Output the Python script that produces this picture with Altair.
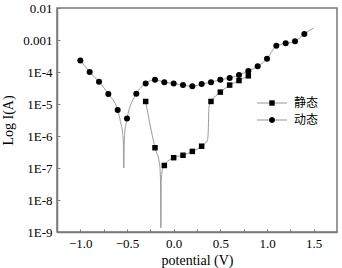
import altair as alt
import pandas as pd

# ---- data ----
series_names = ["静态", "动态"]

# dynamic (动态): marker points
dyn_v = [-1.0, -0.9, -0.8, -0.7, -0.6, -0.5, -0.4, -0.3, -0.2, -0.1, 0.0, 0.1, 0.2,
         0.3, 0.4, 0.5, 0.6, 0.7, 0.8, 0.9, 1.0, 1.1, 1.2, 1.3, 1.4]
dyn_i = [2.29e-4, 1.0e-4, 5.0e-5, 2.04e-5, 6.5e-6, 3.55e-6, 2.1e-5, 4.4e-5, 5.75e-5,
         4.8e-5, 4.4e-5, 3.9e-5, 3.6e-5, 4.2e-5, 4.8e-5, 5.75e-5, 6.5e-5, 8.1e-5,
         1.07e-4, 1.5e-4, 2.6e-4, 6.6e-4, 7.9e-4, 9.1e-4, 1.55e-3]
# dynamic: extra curve points (no marker)
dyn_curve_v = [-0.57, -0.545, -0.537, -0.534, -0.531, -0.525, -0.51, 1.5]
dyn_curve_i = [2.8e-6, 1.1e-6, 3.2e-7, 1.0e-7, 4.0e-7, 1.1e-6, 2.5e-6, 2.4e-3]

# static (静态): marker points
sta_v = [-0.3, -0.2, -0.1, 0.0, 0.1, 0.2, 0.3, 0.4, 0.5, 0.6, 0.7, 0.8]
sta_i = [1.2e-5, 4.3e-7, 1.2e-7, 2.1e-7, 2.5e-7, 3.3e-7, 4.8e-7, 1.2e-5, 2.35e-5,
         3.9e-5, 5.4e-5, 7.6e-5]
# static: extra curve points (no marker)
sta_curve_v = [-0.15, -0.141, -0.137, -0.133, -0.12, 0.36, 0.37, 0.378, 0.39]
sta_curve_i = [1.25e-7, 4.0e-8, 1.35e-9, 4.0e-8, 8.9e-8, 7.1e-7, 1.26e-6, 7.9e-6, 1.07e-5]

x_ticks = [-1.0, -0.5, 0.0, 0.5, 1.0, 1.5]
x_minor = [-1.0, -0.75, -0.5, -0.25, 0.0, 0.25, 0.5, 0.75, 1.0, 1.25, 1.5]
y_ticks = [1e-2, 1e-3, 1e-4, 1e-5, 1e-6, 1e-7, 1e-8, 1e-9]
y_labels = ["0.01", "0.001", "1E-4", "1E-5", "1E-6", "1E-7", "1E-8", "1E-9"]

# ---- tables ----
dyn_line = pd.DataFrame({"V": dyn_v + dyn_curve_v, "I": dyn_i + dyn_curve_i}).sort_values("V")
sta_line = pd.DataFrame({"V": sta_v + sta_curve_v, "I": sta_i + sta_curve_i}).sort_values("V")
dyn_pts = pd.DataFrame({"V": dyn_v, "I": dyn_i})
sta_pts = pd.DataFrame({"V": sta_v, "I": sta_i})
leg_df = pd.DataFrame({"series": series_names, "V": [0.0, 0.0], "I": [1e-5, 1e-5]})

FONT = "Liberation Serif, Noto Sans CJK SC"
GRAY = "#7a7a7a"
LINE_GRAY = "#9a9a9a"

xscale = alt.Scale(domain=[-1.25, 1.75], nice=False, zero=False)
yscale = alt.Scale(type="log", domain=[1e-9, 1e-2], nice=False)

label_expr = " : ".join(
    f"abs(log(datum.value)/LN10 - ({i}))<0.01 ? '{lab}'"
    for i, lab in zip([-2, -3, -4, -5, -6, -7, -8, -9], y_labels)
) + " : ''"

x_main = alt.X("V:Q", scale=xscale, title="potential (V)",
               axis=alt.Axis(values=x_ticks, format=".1f", ticks=False, labelPadding=5,
                             grid=False, domainColor=GRAY, domainWidth=1.5,
                             labelFont=FONT, labelFontSize=13, labelColor="black",
                             titleFont=FONT, titleFontSize=14, titleFontWeight="normal",
                             titleColor="black", titlePadding=3, orient="bottom"))
y_main = alt.Y("I:Q", scale=yscale, title="Log I(A)",
               axis=alt.Axis(values=y_ticks, labelExpr=label_expr, ticks=False, labelPadding=5,
                             grid=False, domainColor=GRAY, domainWidth=1.5,
                             labelFont=FONT, labelFontSize=13, labelColor="black",
                             titleFont=FONT, titleFontSize=14, titleFontWeight="normal",
                             titleColor="black", titlePadding=7, orient="left"))

x_tick = alt.X("V:Q", scale=xscale, title=None,
               axis=alt.Axis(values=x_minor, labels=False, domain=False, grid=False,
                             ticks=True, tickSize=3, tickColor=GRAY, tickWidth=1,
                             offset=-3, orient="bottom"))
y_tick = alt.Y("I:Q", scale=yscale, title=None,
               axis=alt.Axis(values=y_ticks, labels=False, domain=False, grid=False,
                             ticks=True, tickSize=3, tickColor=GRAY, tickWidth=1,
                             offset=-3, orient="left"))

x_none = alt.X("V:Q", scale=xscale, axis=None)
y_none = alt.Y("I:Q", scale=yscale, axis=None)

line_dyn = alt.Chart(dyn_line).mark_line(color=LINE_GRAY, strokeWidth=1, interpolate="monotone", clip=True).encode(
    x=x_main, y=y_main, order="V:Q")
line_sta = alt.Chart(sta_line).mark_line(color=LINE_GRAY, strokeWidth=1, interpolate="monotone", clip=True).encode(
    x=x_none, y=y_none, order="V:Q")
pts_dyn = alt.Chart(dyn_pts).mark_point(shape="circle", filled=True, color="black", opacity=1, size=36).encode(
    x=x_tick, y=y_tick)
pts_sta = alt.Chart(sta_pts).mark_point(shape="square", filled=True, color="black", opacity=1, size=30).encode(
    x=x_none, y=y_none)

# legend symbols: a gray line (first legend) overlaid by a black marker (second legend)
line_path = "M-1,-0.034H1V0.034H-1Z"
sq_path = "M-0.18,-0.18H0.18V0.18H-0.18Z"
ci_path = "M0.2,0A0.2,0.2,0,1,1,-0.2,0A0.2,0.2,0,1,1,0.2,0Z"

common_leg = dict(title=None, orient="none", legendX=200, legendY=90, symbolSize=900,
                  clipHeight=10, rowPadding=5, labelOffset=7, labelFont=FONT,
                  labelFontSize=12, padding=0, symbolStrokeWidth=0)

legend_lines = alt.Chart(leg_df).transform_filter("datum.V > 99").mark_point(
    filled=True, color=LINE_GRAY, opacity=1, size=900).encode(
    x=x_none, y=y_none,
    shape=alt.Shape("series:N", scale=alt.Scale(domain=series_names, range=[line_path, line_path]),
                    legend=alt.Legend(labelColor="transparent", **common_leg)))
legend_marks = alt.Chart(leg_df).transform_filter("datum.V > 99").mark_point(
    filled=True, color="black", opacity=1, size=900).encode(
    x=x_none, y=y_none,
    shape=alt.Shape("series:N", scale=alt.Scale(domain=series_names, range=[sq_path, ci_path]),
                    legend=alt.Legend(labelColor="black", **common_leg)))

chart = alt.layer(line_dyn, line_sta, pts_dyn, pts_sta, legend_lines, legend_marks).resolve_axis(
    x="independent", y="independent"
).resolve_scale(shape="independent").properties(
    width=280, height=224,
    autosize=alt.AutoSizeParams(type="none"),
    padding={"left": 57, "top": 8, "right": 5, "bottom": 36},
    background="white",
).configure_view(stroke=GRAY, strokeWidth=1.5)

chart.save("out.html", embed_options={"renderer": "svg", "actions": False})
